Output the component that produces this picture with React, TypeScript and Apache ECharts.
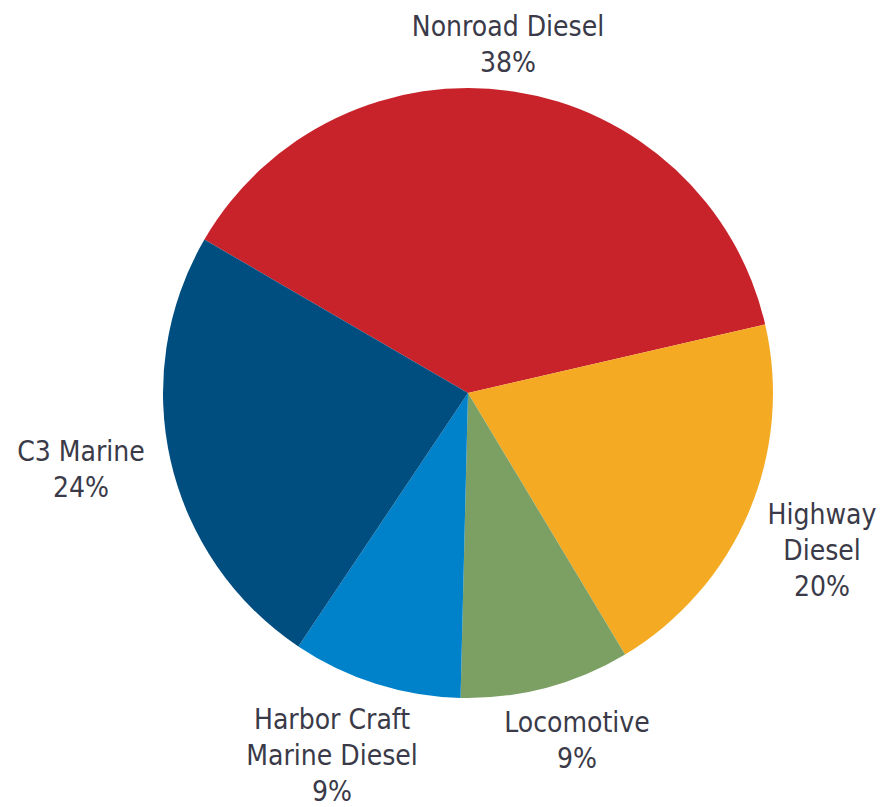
import React, { useEffect, useRef } from "react";
import * as echarts from "echarts";

const categories = ["Nonroad Diesel", "Highway\nDiesel", "Locomotive", "Harbor Craft\nMarine Diesel", "C3 Marine"];
const shares = [38, 20, 9, 9, 24];
const colors = ["#C8232B", "#F4AB23", "#7CA064", "#0082CB", "#004D80"];
// label block centres (px) for each slice, in slice order
const labelCenters = [
  [508, 44],
  [822, 550],
  [577, 740],
  [332, 755],
  [81, 469],
];

export default function App() {
  const ref = useRef<HTMLDivElement>(null);
  useEffect(() => {
    document.body.style.margin = "0";
    const chart = echarts.init(ref.current!, null, { renderer: "svg" });
    chart.setOption({
      animation: false,
      backgroundColor: "#ffffff",
      series: [
        {
          type: "pie",
          center: [468, 393],
          radius: 305,
          startAngle: 149.8,
          clockwise: true,
          avoidLabelOverlap: false,
          itemStyle: { borderWidth: 0 },
          emphasis: { disabled: true },
          label: {
            show: true,
            position: "outside",
            formatter: (p: any) => `${p.name}\n${p.value}%`,
            fontFamily: "'DejaVu Sans Condensed', 'DejaVu Sans', sans-serif",
            fontSize: 28,
            fontWeight: 500,
            lineHeight: 36,
            color: "#3a3a48",
            align: "center",
          },
          labelLine: { show: false },
          labelLayout: (params: any) => {
            const c = labelCenters[params.dataIndex];
            return { x: c[0], y: c[1], align: "center", verticalAlign: "middle" };
          },
          data: categories.map((name, i) => ({
            name,
            value: shares[i],
            itemStyle: { color: colors[i] },
          })),
        },
      ],
    });
    return () => chart.dispose();
  }, []);
  return <div ref={ref} style={{ width: 892, height: 807 }} />;
}
